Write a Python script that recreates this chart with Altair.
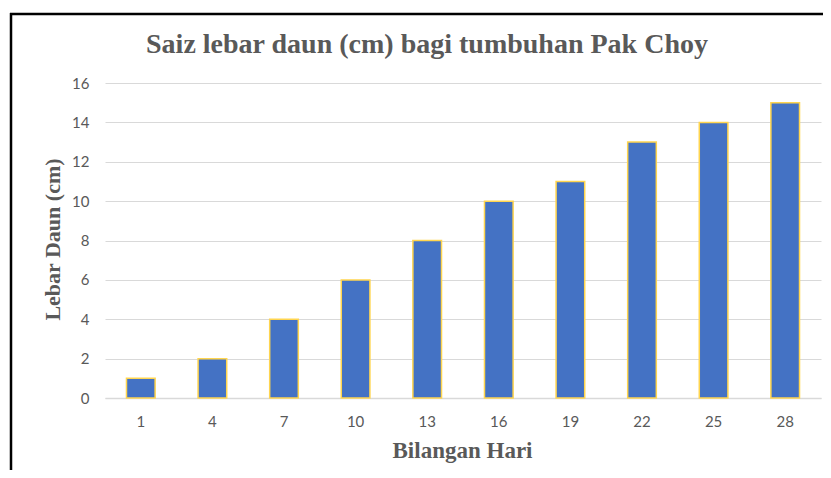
import altair as alt
import pandas as pd

days = [1, 4, 7, 10, 13, 16, 19, 22, 25, 28]
widths = [1, 2, 4, 6, 8, 10, 11, 13, 14, 15]

df = pd.DataFrame({"Hari": days, "Lebar": widths})

TXT = "#595959"
SERIF = "Liberation Serif"
SANS = "Lato"

bars = alt.Chart(df).mark_bar(
    color="#4472C4", stroke="#FFD54F", strokeWidth=1.5
).encode(
    x=alt.X(
        "Hari:O",
        sort=days,
        scale=alt.Scale(paddingInner=0.6, paddingOuter=0.3),
        axis=alt.Axis(
            title="Bilangan Hari",
            labelAngle=0,
            labelFont=SANS,
            labelFontSize=15,
            labelColor=TXT,
            labelPadding=16,
            ticks=False,
            domainColor="#D9D9D9",
            domainWidth=1.5,
            titleFont=SERIF,
            titleFontSize=23,
            titleFontWeight="bold",
            titleColor=TXT,
            titleX=357,
            titleY=59,
            titleBaseline="alphabetic",
            titleAlign="center",
        ),
    ),
    y=alt.Y(
        "Lebar:Q",
        scale=alt.Scale(domain=[0, 16], nice=False),
        axis=alt.Axis(
            title="Lebar Daun (cm)",
            values=[0, 2, 4, 6, 8, 10, 12, 14, 16],
            labelFont=SANS,
            labelFontSize=15,
            labelColor=TXT,
            labelPadding=16,
            ticks=False,
            domain=False,
            gridColor="#D9D9D9",
            gridWidth=1.2,
            titleFont=SERIF,
            titleFontSize=22,
            titleFontWeight="bold",
            titleColor=TXT,
            titleAngle=-90,
            titleX=-53,
            titleY=156,
            titleBaseline="middle",
            titleAlign="center",
        ),
    ),
)

one = pd.DataFrame({"a": [0]})
top_rule = alt.Chart(one).mark_rule(color="black", strokeWidth=2.5).encode(
    x=alt.value(-95), x2=alt.value(740), y=alt.value(-69)
)
left_rule = alt.Chart(one).mark_rule(color="black", strokeWidth=2.5).encode(
    x=alt.value(-94), y=alt.value(-70), y2=alt.value(400)
)

chart = alt.layer(bars, top_rule, left_rule).properties(
    width=716,
    height=315,
    title=alt.TitleParams(
        "Saiz lebar daun (cm) bagi tumbuhan Pak Choy",
        font=SERIF,
        fontSize=28,
        fontWeight="bold",
        color=TXT,
        anchor="middle",
        dx=-36,
        dy=69,
        offset=0,
        baseline="alphabetic",
    ),
    autosize=alt.AutoSizeParams(type="none"),
    padding={"left": 97, "top": 75, "right": 2, "bottom": 72},
).configure_view(stroke=None)

chart.save("out.html", embed_options={"renderer": "svg", "actions": False})
